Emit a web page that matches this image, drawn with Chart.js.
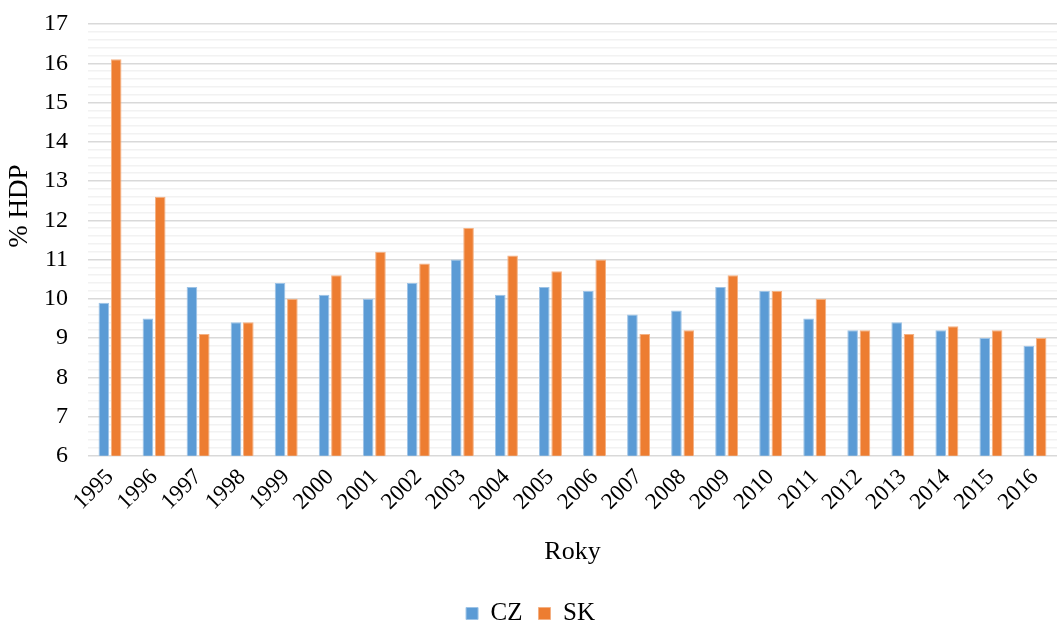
<!DOCTYPE html>
<html>
<head>
<meta charset="utf-8">
<script src="https://cdn.jsdelivr.net/npm/chart.js@4"></script>
<style>
  html, body { margin: 0; padding: 0; background: #fff; }
  #wrap { width: 1057px; height: 623px; }
</style>
</head>
<body>
<div id="wrap"><canvas id="HDP__Canvas"></canvas></div>
<script>
const years = ["1995", "1996", "1997", "1998", "1999", "2000", "2001", "2002",
  "2003", "2004", "2005", "2006", "2007", "2008", "2009", "2010", "2011",
  "2012", "2013", "2014", "2015", "2016"];
const czValues = [9.9, 9.5, 10.3, 9.4, 10.4, 10.1, 10.0, 10.4, 11.0, 10.1, 10.3,
  10.2, 9.6, 9.7, 10.3, 10.2, 9.5, 9.2, 9.4, 9.2, 9.0, 8.8];
const skValues = [16.1, 12.6, 9.1, 9.4, 10.0, 10.6, 11.2, 10.9, 11.8, 11.1, 10.7,
  11.0, 9.1, 9.2, 10.6, 10.2, 10.0, 9.2, 9.1, 9.3, 9.2, 9.0];
const yMin = 6;
const yMax = 17;

const serif = "'Liberation Serif', 'DejaVu Serif', serif";
const isWhole = (v) => Math.abs(v - Math.round(v)) < 1e-6;

const hdpCanvas = document.getElementById("HDP__Canvas");
const hdpChart = new Chart(hdpCanvas, {
  type: "bar",
  data: {
    labels: years,
    datasets: [
      {
        label: "CZ",
        data: czValues,
        backgroundColor: "#5B9BD5",
        borderColor: "#9DC3E6",
        borderWidth: 1,
        categoryPercentage: 0.56,
        barPercentage: 0.86,
      },
      {
        label: "SK",
        data: skValues,
        backgroundColor: "#ED7D31",
        borderColor: "#F4B183",
        borderWidth: 1,
        categoryPercentage: 0.56,
        barPercentage: 0.86,
      },
    ],
  },
  options: {
    responsive: true,
    maintainAspectRatio: false,
    animation: false,
    layout: { padding: { top: 0, right: 0, left: 4, bottom: -13 } },
    plugins: {
      legend: {
        position: "bottom",
        labels: {
          font: { family: serif, size: 25 },
          color: "#000",
          boxWidth: 12,
          boxHeight: 12,
          padding: 16,
        },
      },
      tooltip: { enabled: false },
    },
    scales: {
      x: {
        grid: { display: false },
        border: { display: false },
        ticks: {
          font: { family: serif, size: 23 },
          color: "#000",
          maxRotation: 45,
          minRotation: 45,
          autoSkip: false,
          padding: 0,
        },
        title: {
          display: true,
          text: "Roky",
          font: { family: serif, size: 26 },
          color: "#000",
          padding: { top: 21, bottom: 17 },
        },
      },
      y: {
        min: yMin,
        max: yMax,
        border: { display: false },
        afterFit: (scale) => {
          // fixed axis width; tick padding should not push the plot down
          scale.width = 84;
          scale.paddingTop = 24;
          scale.paddingBottom = 12;
        },
        grid: {
          drawTicks: false,
          color: (ctx) => (isWhole(ctx.tick.value) ? "#d9d9d9" : "#f2f2f2"),
          lineWidth: 1.5,
        },
        ticks: {
          stepSize: 0.2,
          autoSkip: false,
          padding: 20,
          color: "#000",
          font: { family: serif, size: 24 },
          callback: (v) => (isWhole(v) ? String(Math.round(v)) : ""),
        },
        title: {
          display: true,
          // leading spaces nudge the title up, as in the original
          text: "          % HDP",
          font: { family: serif, size: 27 },
          color: "#000",
          padding: { top: 0, bottom: 2 },
        },
      },
    },
  },
});
</script>
</body>
</html>
